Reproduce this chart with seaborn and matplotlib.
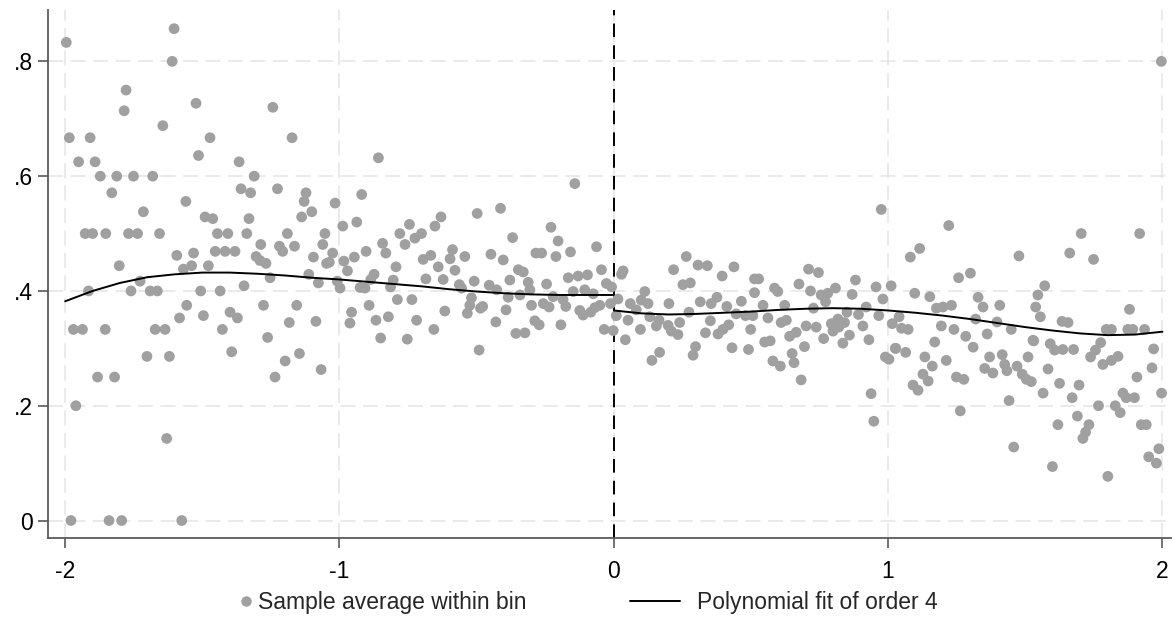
import numpy as np
import pandas as pd
import matplotlib
matplotlib.use('Agg')
import matplotlib.pyplot as plt
from matplotlib.lines import Line2D
import seaborn as sns

# bin averages, left of cutoff (x, y)
left_x = [-1.996, -1.603, -1.610, -1.778, -1.785, -1.644, -1.985, -1.909, -1.951, -1.891,
          -1.872, -1.812, -1.751, -1.681, -1.830, -1.560, -1.715, -1.927, -1.900, -1.852,
          -1.769, -1.736, -1.656, -1.593, -1.803, -1.569, -1.727, -1.915, -1.760, -1.690,
          -1.664, -1.557, -1.583, -1.970, -1.937, -1.854, -1.672, -1.636, -1.702, -1.620,
          -1.882, -1.820, -1.961, -1.630, -1.979, -1.840, -1.794, -1.575,
          -1.523, -1.243, -1.472, -1.173, -1.514, -1.366, -1.311, -1.359, -1.324, -1.226,
          -1.122, -1.129, -1.490, -1.462, -1.330, -1.101, -1.138, -1.445, -1.407, -1.338,
          -1.190, -1.053, -1.287, -1.219, -1.207, -1.164, -1.061, -1.532, -1.453, -1.417,
          -1.381, -1.304, -1.290, -1.268, -1.095, -1.047, -1.539, -1.478, -1.253, -1.112,
          -1.077, -1.506, -1.435, -1.348, -1.277, -1.156, -1.496, -1.399, -1.372, -1.183,
          -1.086, -1.427, -1.262, -1.393, -1.198, -1.146, -1.235, -1.067,
          -0.858, -0.919, -1.016, -0.630, -0.652, -0.937, -0.988, -0.745, -0.780, -0.701,
          -0.725, -0.761, -0.843, -0.831, -0.903, -1.025, -1.037, -0.984, -0.946, -0.971,
          -0.794, -0.874, -0.886, -0.925, -0.907, -1.008, -0.998, -0.804, -0.814, -0.685,
          -0.695, -0.667, -0.640, -0.622, -0.588, -0.597, -0.579, -0.563, -0.789, -0.736,
          -0.892, -0.956, -0.962, -0.867, -0.822, -0.719, -0.616, -0.850, -0.753, -0.656,
          -0.142, -0.498, -0.413, -0.229, -0.369, -0.203, -0.063, -0.543, -0.448, -0.403,
          -0.284, -0.263, -0.211, -0.158, -0.045, -0.348, -0.330, -0.379, -0.509, -0.454,
          -0.312, -0.245, -0.166, -0.130, -0.096, -0.027, -0.555, -0.427, -0.306, -0.148,
          -0.106, -0.075, -0.008, -0.519, -0.385, -0.342, -0.221, -0.185, -0.525, -0.478,
          -0.300, -0.257, -0.236, -0.175, -0.051, -0.012, -0.534, -0.486, -0.393, -0.124,
          -0.112, -0.084, -0.069, -0.430, -0.288, -0.272, -0.193, -0.035, -0.002, -0.357,
          -0.324, -0.491]
left_y = [0.833, 0.857, 0.800, 0.750, 0.714, 0.688, 0.667, 0.667, 0.625, 0.625,
          0.600, 0.600, 0.600, 0.600, 0.571, 0.556, 0.538, 0.500, 0.500, 0.500,
          0.500, 0.500, 0.500, 0.462, 0.444, 0.438, 0.417, 0.400, 0.400, 0.400,
          0.400, 0.375, 0.353, 0.333, 0.333, 0.333, 0.333, 0.333, 0.286, 0.286,
          0.250, 0.250, 0.200, 0.143, 0.000, 0.000, 0.000, 0.000,
          0.727, 0.720, 0.667, 0.667, 0.636, 0.625, 0.600, 0.578, 0.571, 0.578,
          0.571, 0.556, 0.529, 0.526, 0.526, 0.538, 0.529, 0.500, 0.500, 0.500,
          0.500, 0.500, 0.481, 0.478, 0.469, 0.478, 0.481, 0.466, 0.469, 0.469,
          0.469, 0.460, 0.453, 0.448, 0.459, 0.448, 0.444, 0.444, 0.423, 0.429,
          0.414, 0.400, 0.400, 0.409, 0.375, 0.375, 0.357, 0.363, 0.353, 0.345,
          0.347, 0.333, 0.319, 0.294, 0.278, 0.291, 0.250, 0.263,
          0.632, 0.568, 0.553, 0.529, 0.513, 0.520, 0.513, 0.516, 0.500, 0.500,
          0.492, 0.481, 0.483, 0.466, 0.469, 0.466, 0.450, 0.452, 0.459, 0.435,
          0.442, 0.429, 0.420, 0.406, 0.405, 0.417, 0.405, 0.419, 0.407, 0.421,
          0.455, 0.462, 0.442, 0.420, 0.472, 0.456, 0.436, 0.411, 0.385, 0.385,
          0.375, 0.363, 0.344, 0.349, 0.355, 0.349, 0.365, 0.318, 0.316, 0.333,
          0.587, 0.535, 0.544, 0.511, 0.493, 0.487, 0.477, 0.460, 0.464, 0.454,
          0.466, 0.466, 0.460, 0.468, 0.437, 0.437, 0.433, 0.419, 0.417, 0.410,
          0.415, 0.412, 0.423, 0.426, 0.428, 0.413, 0.405, 0.402, 0.402, 0.399,
          0.402, 0.395, 0.407, 0.388, 0.389, 0.393, 0.390, 0.385, 0.375, 0.373,
          0.375, 0.378, 0.372, 0.373, 0.375, 0.378, 0.361, 0.370, 0.367, 0.366,
          0.358, 0.363, 0.371, 0.346, 0.348, 0.341, 0.341, 0.333, 0.331, 0.326,
          0.327, 0.297]

# bin averages, right of cutoff (x, y)
right_x = [0.264, 0.034, 0.028, 0.218, 0.307, 0.341, 0.438, 0.395, 0.252, 0.279,
           0.513, 0.113, 0.513, 0.015, 0.060, 0.100, 0.125, 0.201, 0.315, 0.376,
           0.355, 0.412, 0.465, 0.082, 0.009, 0.131, 0.165, 0.240, 0.274, 0.446,
           0.480, 0.507, 0.052, 0.155, 0.198, 0.210, 0.352, 0.398, 0.419, 0.097,
           0.234, 0.334, 0.380, 0.499, 0.042, 0.431, 0.491, 0.298, 0.289, 0.167,
           0.139,
           0.975, 0.710, 0.746, 0.528, 0.675, 0.881, 1.011, 0.956, 0.808, 0.586,
           0.598, 0.717, 0.756, 0.780, 0.869, 0.981, 0.772, 0.544, 0.623, 0.728,
           0.850, 0.920, 0.562, 0.892, 0.966, 0.610, 0.629, 0.793, 0.817, 0.841,
           1.015, 0.701, 0.738, 0.665, 0.641, 0.799, 0.820, 0.908, 0.859, 0.765,
           0.930, 0.550, 0.570, 0.835, 0.695, 1.026, 0.650, 0.580, 0.607, 0.657,
           0.990, 1.003, 0.683, 0.938, 0.948,
           1.221, 1.081, 1.115, 1.477, 1.257, 1.300, 1.097, 1.152, 1.328, 1.176,
           1.200, 1.231, 1.346, 1.407, 1.319, 1.397, 1.040, 1.194, 1.049, 1.073,
           1.240, 1.449, 1.361, 1.283, 1.170, 1.310, 1.528, 1.028, 1.064, 1.134,
           1.370, 1.416, 1.510, 1.212, 1.161, 1.425, 1.470, 1.352, 1.382, 1.433,
           1.127, 1.489, 1.249, 1.276, 1.146, 1.504, 1.522, 1.091, 1.109, 1.441,
           1.263, 1.458,
           1.996, 1.704, 1.917, 1.662, 1.749, 1.571, 1.546, 1.538, 1.555, 1.880,
           1.634, 1.656, 1.795, 1.814, 1.874, 1.892, 1.935, 1.531, 1.591, 1.607,
           1.637, 1.676, 1.775, 1.756, 1.738, 1.968, 1.838, 1.814, 1.783, 1.583,
           1.962, 1.907, 1.625, 1.696, 1.565, 1.671, 1.856, 1.868, 1.898, 1.997,
           1.767, 1.828, 1.846, 1.690, 1.619, 1.732, 1.720, 1.710, 1.923, 1.941,
           1.987, 1.950, 1.978, 1.599, 1.801]
right_y = [0.460, 0.435, 0.429, 0.437, 0.445, 0.444, 0.442, 0.426, 0.411, 0.414,
           0.421, 0.399, 0.397, 0.386, 0.378, 0.384, 0.378, 0.378, 0.381, 0.389,
           0.378, 0.373, 0.382, 0.367, 0.357, 0.355, 0.349, 0.345, 0.363, 0.360,
           0.357, 0.357, 0.349, 0.339, 0.340, 0.330, 0.348, 0.333, 0.341, 0.333,
           0.324, 0.327, 0.325, 0.333, 0.315, 0.301, 0.298, 0.303, 0.288, 0.293,
           0.279,
           0.542, 0.438, 0.432, 0.421, 0.412, 0.419, 0.409, 0.407, 0.405, 0.405,
           0.399, 0.400, 0.393, 0.396, 0.394, 0.386, 0.381, 0.375, 0.375, 0.370,
           0.363, 0.372, 0.353, 0.359, 0.357, 0.345, 0.349, 0.343, 0.351, 0.345,
           0.343, 0.339, 0.337, 0.328, 0.321, 0.330, 0.337, 0.339, 0.323, 0.317,
           0.315, 0.311, 0.313, 0.309, 0.303, 0.300, 0.291, 0.278, 0.269, 0.275,
           0.285, 0.281, 0.245, 0.221, 0.173,
           0.514, 0.459, 0.474, 0.461, 0.423, 0.431, 0.396, 0.390, 0.389, 0.370,
           0.372, 0.375, 0.372, 0.375, 0.351, 0.346, 0.355, 0.339, 0.335, 0.333,
           0.333, 0.333, 0.325, 0.321, 0.311, 0.302, 0.314, 0.300, 0.293, 0.285,
           0.285, 0.289, 0.285, 0.279, 0.269, 0.272, 0.269, 0.265, 0.257, 0.261,
           0.255, 0.255, 0.250, 0.246, 0.243, 0.246, 0.242, 0.236, 0.227, 0.209,
           0.191, 0.128,
           0.800, 0.500, 0.500, 0.466, 0.455, 0.409, 0.393, 0.372, 0.355, 0.368,
           0.347, 0.345, 0.333, 0.333, 0.333, 0.333, 0.333, 0.313, 0.308, 0.297,
           0.298, 0.298, 0.310, 0.297, 0.285, 0.299, 0.286, 0.279, 0.272, 0.264,
           0.266, 0.250, 0.239, 0.236, 0.222, 0.214, 0.222, 0.214, 0.214, 0.222,
           0.200, 0.200, 0.188, 0.182, 0.167, 0.167, 0.154, 0.143, 0.167, 0.167,
           0.125, 0.111, 0.100, 0.094, 0.077]

# polynomial fit (order 4)
fit_left_x = [-2.0, -1.9, -1.8, -1.7, -1.6, -1.5, -1.4, -1.3, -1.2, -1.1, -1.0,
              -0.9, -0.8, -0.7, -0.6, -0.5, -0.4, -0.3, -0.2, -0.1, 0.0]
fit_left_y = [0.382, 0.400, 0.414, 0.424, 0.429, 0.432, 0.432, 0.430, 0.427, 0.423, 0.420,
              0.416, 0.412, 0.408, 0.403, 0.399, 0.396, 0.394, 0.393, 0.393, 0.393]
fit_right_x = [0.0, 0.1, 0.2, 0.3, 0.4, 0.5, 0.6, 0.7, 0.8, 0.9, 1.0,
               1.1, 1.2, 1.3, 1.4, 1.5, 1.6, 1.7, 1.8, 1.9, 2.0]
fit_right_y = [0.366, 0.361, 0.359, 0.360, 0.362, 0.364, 0.367, 0.369, 0.370, 0.369, 0.366,
               0.362, 0.357, 0.351, 0.344, 0.337, 0.331, 0.326, 0.323, 0.324, 0.329]

xticks = [-2, -1, 0, 1, 2]
yticks = [0, 0.2, 0.4, 0.6, 0.8]
ytick_labels = ['0', '.2', '.4', '.6', '.8']

dfBins = pd.DataFrame({'x': left_x + right_x, 'y': left_y + right_y})
dfLeft = pd.DataFrame({'x': fit_left_x, 'y': fit_left_y})
dfRight = pd.DataFrame({'x': fit_right_x, 'y': fit_right_y})

sns.set_style('white')
plt.rcParams['font.family'] = ['Liberation Sans', 'DejaVu Sans']

fig, ax = plt.subplots(figsize=(11.75, 6.44), dpi=100)
fig.subplots_adjust(left=0.041, right=0.997, bottom=0.165, top=0.984)

dotColor = '#a0a0a0'
fontSize = 16.5
sns.scatterplot(data=dfBins, x='x', y='y', color=dotColor, s=60,
                edgecolor='none', linewidth=0, ax=ax, zorder=3)
sns.lineplot(data=dfLeft, x='x', y='y', color='black', linewidth=1.4,
             estimator=None, sort=False, ax=ax, zorder=4)
sns.lineplot(data=dfRight, x='x', y='y', color='black', linewidth=1.4,
             estimator=None, sort=False, ax=ax, zorder=4)

# cutoff
ax.axvline(0, color='black', linestyle=(0, (7, 4.2)), linewidth=1.4, zorder=2)

ax.set_xlim(-2.062, 2.033)
ax.set_ylim(-0.030, 0.889)
ax.set_xticks(xticks)
ax.set_xticklabels([str(t) for t in xticks])
ax.set_yticks(yticks)
ax.set_yticklabels(ytick_labels)
ax.set_xlabel('')
ax.set_ylabel('')

ax.grid(True, color='#e6e6e6', linestyle=(0, (9, 4.5)), linewidth=1.2)
ax.set_axisbelow(True)

sns.despine(ax=ax)
for side in ['left', 'bottom']:
    ax.spines[side].set_color('#5a5a5a')
    ax.spines[side].set_linewidth(1.3)
ax.tick_params(axis='both', direction='out', length=7, width=1.2, color='#5a5a5a',
               labelsize=fontSize, labelcolor='black', left=True, bottom=True)
ax.tick_params(axis='x', pad=9)
ax.tick_params(axis='y', pad=4)

# legend: two pieces so the dot sits close to its text
dotHandle = Line2D([], [], marker='o', linestyle='none', color=dotColor, markersize=7.5,
                   markeredgewidth=0)
lineHandle = Line2D([], [], color='black', linewidth=1.4)
leg1 = fig.legend([dotHandle], ['Sample average within bin'], loc='center left',
                  bbox_to_anchor=(0.2043, 0.0637), frameon=False, fontsize=fontSize,
                  handlelength=0.5, handletextpad=0.28, borderpad=0, borderaxespad=0)
leg2 = fig.legend([lineHandle], ['Polynomial fit of order 4'], loc='center left',
                  bbox_to_anchor=(0.5362, 0.0637), frameon=False, fontsize=fontSize,
                  handlelength=2.18, handletextpad=0.74, borderpad=0, borderaxespad=0)

fig.savefig('out.png', dpi=100)
